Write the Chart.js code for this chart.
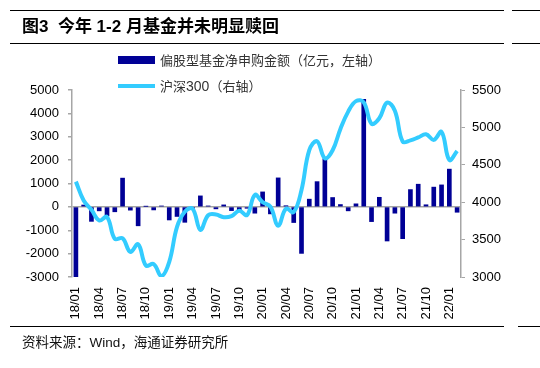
<!DOCTYPE html>
<html lang="zh-CN">
<head>
<meta charset="utf-8">
<script src="https://cdn.jsdelivr.net/npm/chart.js@4.4.1/dist/chart.umd.min.js"></script>
<style>
    html, body { margin: 0; padding: 0; background: #fff; }
    #wrap {
        position: relative;
        width: 540px;
        height: 368px;
        overflow: hidden;
        font-family: "Liberation Sans", Arial, "Noto Sans CJK SC", sans-serif;
    }
    #chart { position: absolute; left: 0; top: 0; }
    .rule { position: absolute; height: 0; border-top: 1.5px solid #000; }
    .title {
        position: absolute; left: 22px; top: 17px;
        font-size: 17px; font-weight: bold; line-height: 20px; color: #000;
        font-family: "Liberation Sans", Arial, "Noto Sans CJK SC", sans-serif;
        white-space: pre;
    }
    .source {
        position: absolute; left: 22px; top: 333px;
        font-size: 13.5px; line-height: 16px; color: #111;
        font-family: "Noto Sans CJK SC", sans-serif;
    }
    .source .en { font-family: "Liberation Sans", Arial, sans-serif; }
    .swatch { position: absolute; left: 118px; width: 37px; }
    .legtext {
        position: absolute; left: 160px;
        font-size: 13px; line-height: 16px; color: #333;
        font-family: "Noto Sans CJK SC", sans-serif;
        white-space: nowrap;
    }
    .legtext .en { font-family: "Liberation Sans", Arial, sans-serif; font-size: 14px; }
</style>
</head>
<body>
<div id="wrap">
    <canvas id="chart" width="540" height="368"></canvas>

    <div class="rule" style="left:10px; top:10px; width:494px;"></div>
    <div class="rule" style="left:512px; top:10px; width:28px;"></div>
    <div class="title">图3  今年 1-2 月基金并未明显赎回</div>
    <div class="rule" style="left:10px; top:43px; width:494px;"></div>
    <div class="rule" style="left:512px; top:43px; width:28px;"></div>

    <div class="swatch" style="top:56px; height:8px; background:#000096;"></div>
    <div class="legtext" style="top:52px;">偏股型基金净申购金额（亿元，左轴）</div>
    <div class="swatch" style="top:84px; height:4px; background:#33CCFF;"></div>
    <div class="legtext" style="top:78px;">沪深<span class="en">300</span>（右轴）</div>

    <div class="rule" style="left:10px; top:326px; width:494px;"></div>
    <div class="rule" style="left:518px; top:326px; width:22px;"></div>
    <div class="source">资料来源：<span class="en">Wind</span>，海通证券研究所</div>
</div>

<script>
// Monthly categories, 2018/01 - 2022/02
const months = [
    '18/01', '18/02', '18/03', '18/04', '18/05', '18/06', '18/07', '18/08', '18/09', '18/10', '18/11', '18/12',
    '19/01', '19/02', '19/03', '19/04', '19/05', '19/06', '19/07', '19/08', '19/09', '19/10', '19/11', '19/12',
    '20/01', '20/02', '20/03', '20/04', '20/05', '20/06', '20/07', '20/08', '20/09', '20/10', '20/11', '20/12',
    '21/01', '21/02', '21/03', '21/04', '21/05', '21/06', '21/07', '21/08', '21/09', '21/10', '21/11', '21/12',
    '22/01', '22/02'
];

// 偏股型基金净申购金额（亿元）
const fundFlow = [
    -3000, 80, -620, -170, -390, -210, 1230, -140, -810, 20, -130, 40,
    -560, -410, -660, -60, 470, 40, -85, 85, -160, -130, -60, -270,
    640, -300, 1240, 50, -670, -1990, 330, 1080, 2060, 400, 100, -170,
    130, 4600, -630, 410, -1460, -270, -1360, 740, 970, 90, 845, 940,
    1615, -230
];

// 沪深300 (right axis)
const hs300 = [
    4275, 4023, 3899, 3756, 3802, 3510, 3517, 3335, 3439, 3153, 3173, 3011,
    3202, 3670, 3872, 3913, 3630, 3826, 3836, 3799, 3814, 3887, 3829, 4097,
    4000, 3940, 3686, 3912, 3868, 4164, 4695, 4816, 4587, 4695, 4980, 5211,
    5351, 5336, 5048, 5123, 5331, 5224, 4811, 4827, 4866, 4908, 4833, 4940,
    4564, 4685
];

const leftTicks = { min: -3000, max: 5000, step: 1000 };
const rightTicks = { min: 3000, max: 5500, step: 500 };

const axisGray = '#a6a6a6';
const tickFont = { family: '"Liberation Sans", Arial, sans-serif', size: 13 };

const ctx = document.getElementById('chart').getContext('2d');

new Chart(ctx, {
    data: {
        labels: months,
        datasets: [
            {
                type: 'line',
                label: '沪深300（右轴）',
                data: hs300,
                yAxisID: 'y1',
                borderColor: '#33CCFF',
                borderWidth: 4,
                pointRadius: 0,
                tension: 0.4,
                fill: false,
                order: 0
            },
            {
                type: 'bar',
                label: '偏股型基金净申购金额（亿元，左轴）',
                data: fundFlow,
                yAxisID: 'y',
                backgroundColor: '#000096',
                barThickness: 4,
                order: 1
            }
        ]
    },
    options: {
        responsive: false,
        animation: false,
        devicePixelRatio: 1,
        layout: {
            padding: { top: 90, left: 0, right: 0, bottom: 41 }
        },
        plugins: {
            legend: { display: false },
            tooltip: { enabled: false }
        },
        scales: {
            x: {
                type: 'category',
                grid: { display: false, drawTicks: false },
                border: { display: false },
                ticks: {
                    autoSkip: false,
                    minRotation: 90,
                    maxRotation: 90,
                    padding: 10,
                    color: '#000',
                    font: tickFont,
                    callback: function (value, index) {
                        return index % 3 === 0 ? this.getLabelForValue(value) : '';
                    }
                },
                afterFit: (s) => { s.height = 50; }
            },
            y: {
                position: 'left',
                min: leftTicks.min,
                max: leftTicks.max,
                grid: {
                    drawOnChartArea: true,
                    color: (c) => (c.tick && c.tick.value === 0 ? axisGray : 'rgba(0,0,0,0)'),
                    lineWidth: 1.5,
                    tickColor: axisGray,
                    tickLength: 4
                },
                border: { display: true, color: axisGray, width: 1.5 },
                ticks: {
                    stepSize: leftTicks.step,
                    padding: 9,
                    color: '#000',
                    font: tickFont,
                    callback: (value) => String(value)
                },
                afterFit: (s) => { s.width = 72; }
            },
            y1: {
                position: 'right',
                min: rightTicks.min,
                max: rightTicks.max,
                grid: {
                    drawOnChartArea: false,
                    tickColor: axisGray,
                    tickLength: 4
                },
                border: { display: true, color: axisGray, width: 1.5 },
                ticks: {
                    stepSize: rightTicks.step,
                    padding: 7,
                    color: '#000',
                    font: tickFont,
                    callback: (value) => String(value)
                },
                afterFit: (s) => { s.width = 79; }
            }
        }
    }
});
</script>
</body>
</html>
